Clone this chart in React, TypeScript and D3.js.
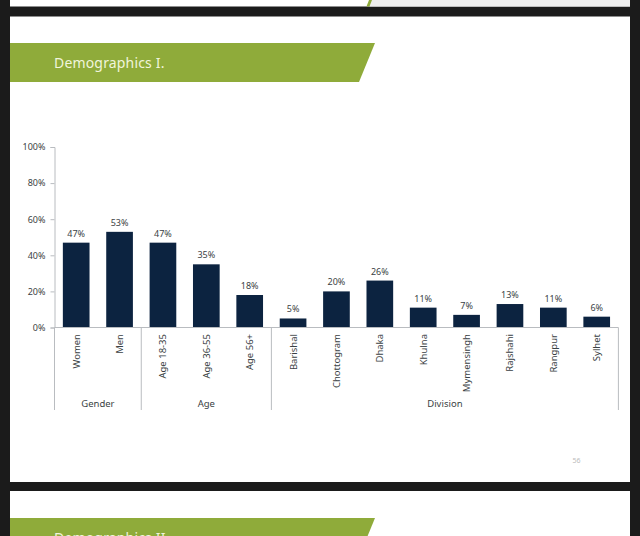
import React, { useEffect, useRef } from "react";
import * as d3 from "d3";

const categories = ["Women", "Men", "Age 18-35", "Age 36-55", "Age 56+", "Barishal", "Chottogram", "Dhaka", "Khulna", "Mymensingh", "Rajshahi", "Rangpur", "Sylhet"];
const values = [47, 53, 47, 35, 18, 5, 20, 26, 11, 7, 13, 11, 6];
const groupNames = ["Gender", "Age", "Division"];
const groupSizes = [2, 3, 8];
const yTicks = [0, 20, 40, 60, 80, 100];

const FONT = "'Noto Sans', sans-serif";
const GREEN = "#8fab3a";
const NAVY = "#0c2340";
const LINE = "#b9bcc0";
const TEXT = "#3a3f44";

const App: React.FC = () => {
  const ref = useRef<SVGSVGElement>(null);

  useEffect(() => {
    if (!ref.current) return;
    const svg = d3.select(ref.current);
    svg.selectAll("*").remove();

    // page background and slides
    svg.append("rect").attr("width", 640).attr("height", 536).attr("fill", "#1b1b1b");
    svg.append("rect").attr("x", 10).attr("y", -5).attr("width", 620).attr("height", 11.5).attr("fill", "#fff");
    svg.append("path").attr("d", "M372,0H630V6.5H369.5Z").attr("fill", "#eeeeee");
    svg.append("path").attr("d", "M372,0L369.5,6.5H366.5L369,0Z").attr("fill", GREEN);
    svg.append("rect").attr("x", 10).attr("y", 16.5).attr("width", 620).attr("height", 465.5).attr("fill", "#fff");
    svg.append("rect").attr("x", 10).attr("y", 491).attr("width", 620).attr("height", 45).attr("fill", "#fff");

    // banners
    const banner = (y: number, title: string) => {
      svg.append("path").attr("d", `M10,${y}H375L359,${y + 39}H10Z`).attr("fill", GREEN);
      svg.append("text").attr("x", 54).attr("y", y + 25).attr("fill", "#f1f5dc")
        .style("font-family", FONT).style("font-size", "14px").style("letter-spacing", "0.17px").text(title);
    };
    banner(43, "Demographics I.");
    banner(518, "Demographics II.");

    // scales
    const left = 54.5;
    const right = 618.4;
    const base = 327.5;
    const top = 147;
    const x = d3.scaleBand<string>().domain(categories).range([left, right]).paddingInner(0.385).paddingOuter(0.1925);
    const y = d3.scaleLinear().domain([0, 100]).range([base, top]);

    // y axis
    const yAxis = svg.append("g").attr("transform", `translate(${left},0)`)
      .call(d3.axisLeft(y).tickValues(yTicks).tickSize(4).tickPadding(5).tickFormat((d) => `${d}%`));
    yAxis.select(".domain").attr("stroke", LINE);
    yAxis.selectAll("line").attr("stroke", LINE);
    yAxis.selectAll("text").attr("fill", TEXT).style("font-family", FONT).style("font-size", "9px");

    // bars
    svg.selectAll("rect.bar").data(categories).enter().append("rect").attr("class", "bar")
      .attr("x", (d) => x(d) || 0)
      .attr("y", (_, i) => y(values[i]))
      .attr("width", x.bandwidth())
      .attr("height", (_, i) => base - y(values[i]))
      .attr("fill", NAVY);

    // value labels
    svg.selectAll("text.val").data(categories).enter().append("text").attr("class", "val")
      .attr("x", (d) => (x(d) || 0) + x.bandwidth() / 2)
      .attr("y", (_, i) => y(values[i]) - 6)
      .attr("text-anchor", "middle").attr("fill", TEXT)
      .style("font-family", FONT).style("font-size", "9px")
      .text((_, i) => `${values[i]}%`);

    // x axis line and rotated category labels
    svg.append("line").attr("x1", left).attr("x2", right).attr("y1", base).attr("y2", base).attr("stroke", LINE);
    svg.selectAll("text.cat").data(categories).enter().append("text").attr("class", "cat")
      .attr("transform", (d) => `translate(${(x(d) || 0) + x.bandwidth() / 2 + 3.5},334) rotate(-90)`)
      .attr("text-anchor", "end").attr("fill", TEXT)
      .style("font-family", FONT).style("font-size", "9.5px")
      .text((d) => d);

    // group separators and names
    const step = x.step();
    let start = 0;
    svg.append("line").attr("x1", left).attr("x2", left).attr("y1", base).attr("y2", 410).attr("stroke", LINE);
    groupNames.forEach((name, i) => {
      const end = start + groupSizes[i];
      const x0 = left + start * step;
      const x1 = left + end * step;
      svg.append("line").attr("x1", x1).attr("x2", x1).attr("y1", base).attr("y2", 410).attr("stroke", LINE);
      svg.append("text").attr("x", (x0 + x1) / 2).attr("y", 407).attr("text-anchor", "middle").attr("fill", TEXT)
        .style("font-family", FONT).style("font-size", "9.5px").text(name);
      start = end;
    });

    // page number
    svg.append("text").attr("x", 576.5).attr("y", 463).attr("text-anchor", "middle").attr("fill", "#bcbcbc")
      .style("font-family", FONT).style("font-size", "7px").text("56");
  }, []);

  return <svg ref={ref} width={640} height={536} style={{ position: "absolute", left: 0, top: 0 }} />;
};

export default App;
